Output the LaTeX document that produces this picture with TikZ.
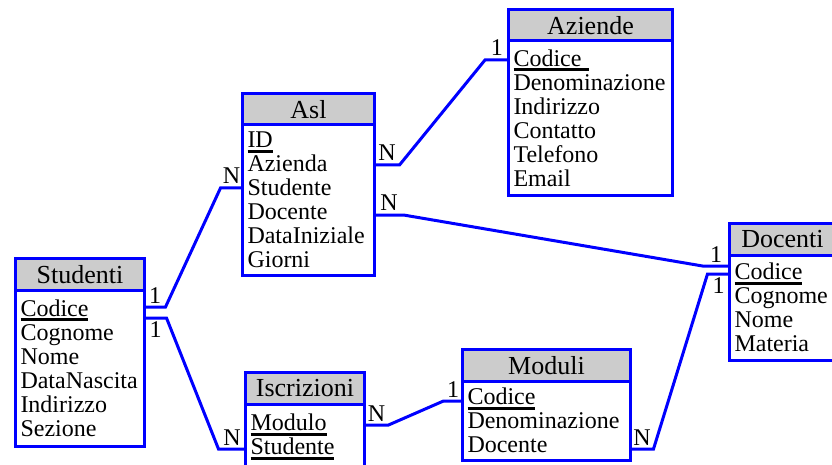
\documentclass[tikz,border=0pt]{standalone}
\usepackage{fontspec}
\setmainfont{Liberation Serif}
\usepackage{tikz}
\usetikzlibrary{positioning}

% chiave primaria sottolineata
\newcommand{\chiave}[1]{\leavevmode\setbox0\hbox{#1}\rlap{\rule[-5pt]{\wd0}{3.2pt}}\box0}

\begin{document}
\begin{tikzpicture}[
    x=1pt, y=-1pt,
    node distance = 0pt,
    title/.style = {rectangle, draw=blue, line width=3pt, fill=gray!40, minimum height=31.5pt, inner sep=0pt, outer sep=0pt, anchor=north west, font=\fontsize{26}{26}\selectfont},
    attr/.style = {rectangle, draw=blue, line width=3pt, fill=white, align=left, inner xsep=5pt, inner ysep=0pt, outer sep=0pt, font=\fontsize{24}{24}\selectfont},
    card/.style = {inner sep=2.5pt, font=\fontsize{24}{24}\selectfont},
    rel/.style = {draw=blue, line width=3pt}
]
    \useasboundingbox (0,0) rectangle (832,465);
    \clip (0,0) rectangle (832,465);

    % Tabelle
    \node (studH) [title, minimum width=129pt] at (15.5,258.5) {Studenti};
    \node (stud) [attr, below=of studH, text width=119pt, minimum height=156.5pt] {\chiave{Codice}\\Cognome\\Nome\\DataNascita\\Indirizzo\\Sezione};

    \node (aslH) [title, minimum width=132pt] at (242.5,93.5) {Asl};
    \node (asl) [attr, below=of aslH, text width=122pt, minimum height=150.5pt] {\chiave{ID}\\Azienda\\Studente\\Docente\\DataIniziale\\Giorni};

    \node (azH) [title, minimum width=164pt] at (508.5,9.5) {Aziende};
    \node (az) [attr, below=of azH, text width=154pt, minimum height=154.5pt] {\chiave{Codice\ }\\Denominazione\\Indirizzo\\Contatto\\Telefono\\Email};

    \node (docH) [title, minimum width=106pt] at (729.5,223.5) {Docenti};
    \node (doc) [attr, below=of docH, text width=96pt, minimum height=105.5pt] {\chiave{Codice}\\Cognome\\Nome\\Materia};

    \node (modH) [title, minimum width=168pt] at (462.5,349.5) {Moduli};
    \node (mod) [attr, below=of modH, text width=158pt, minimum height=79.5pt] {\chiave{Codice}\\Denominazione\\Docente};

    \node (iscrH) [title, minimum width=119pt] at (245.5,372.5) {Iscrizioni};
    \node (iscr) [attr, below=of iscrH, text width=109pt, minimum height=66pt] {\chiave{Modulo}\\\chiave{Studente}};

    % Relazioni
    \draw [rel] (stud.east |- 0,307) -- node[card, above] {1} ++(21,0)
        -- ([xshift=-22pt]asl.west |- 0,188) -- node[card, above] {N} (asl.west |- 0,188);
    \draw [rel] (stud.east |- 0,318) -- node[card, below] {1} ++(22,0)
        -- ([xshift=-27pt]iscr.west |- 0,449) -- node[card, above] {N} (iscr.west |- 0,449);
    \draw [rel] (iscr.east |- 0,425) -- node[card, above] {N} ++(24,0)
        -- ([xshift=-19pt]mod.west |- 0,401) -- node[card, above] {1} (mod.west |- 0,401);
    \draw [rel] (mod.east |- 0,449) -- node[card, above] {N} ++(23,0)
        -- ([xshift=-22pt]doc.west |- 0,274) -- node[card, below] {1} (doc.west |- 0,274);
    \draw [rel] (asl.east |- 0,215) -- node[card, above] {N} ++(29,0)
        -- ([xshift=-27pt]doc.west |- 0,266) -- node[card, above] {1} (doc.west |- 0,266);
    \draw [rel] (asl.east |- 0,165) -- node[card, above] {N} ++(25,0)
        -- ([xshift=-23.5pt]az.west |- 0,60) -- node[card, above] {1} (az.west |- 0,60);

\end{tikzpicture}
\end{document}
